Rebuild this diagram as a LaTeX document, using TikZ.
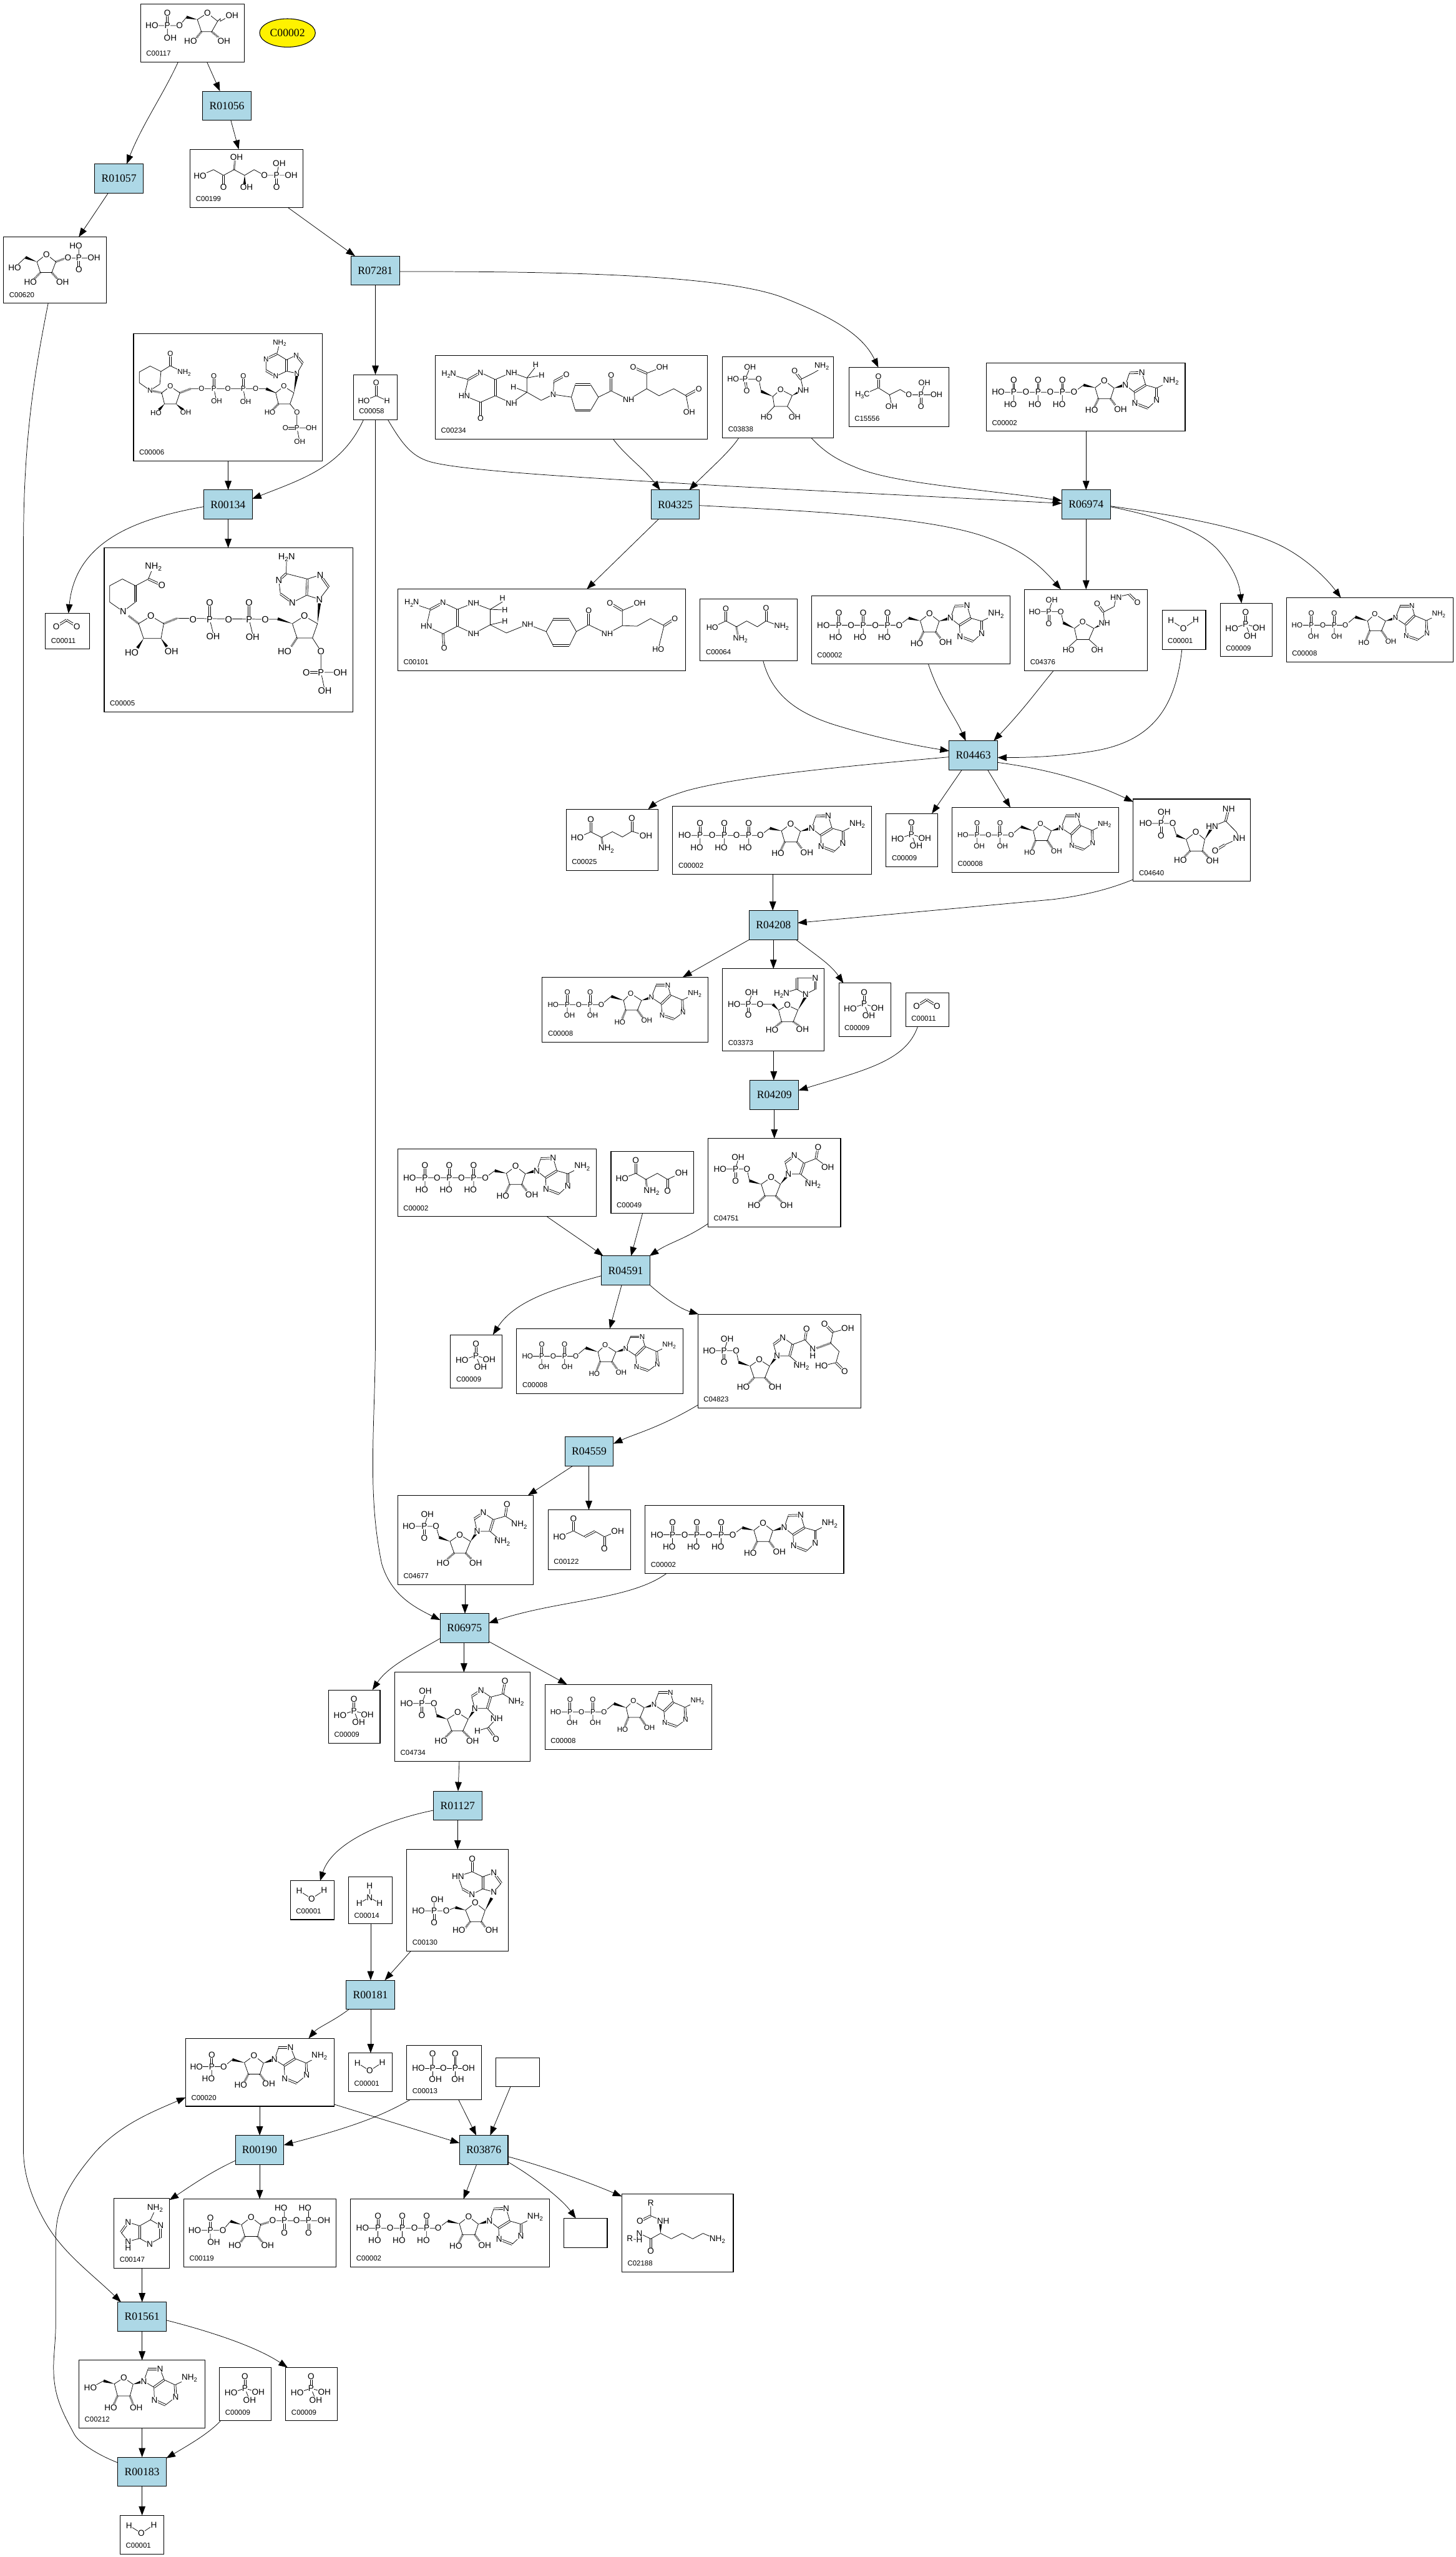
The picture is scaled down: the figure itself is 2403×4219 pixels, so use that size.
\documentclass[tikz,border=0pt]{standalone}
\usepackage{fontspec}
\usetikzlibrary{arrows.meta,shapes.geometric}
\newfontfamily\atf{Liberation Sans}
\newfontfamily\rxf{Liberation Serif}
\definecolor{rxblue}{HTML}{ADD8E6}
\newcount\atomn
\def\atsz{7}
\newcommand\atomfont{\atf\fontsize{\atsz}{\atsz}\selectfont}
\newcommand\sbs[1]{\raisebox{-.25em}{\scalebox{.7}{#1}}}
\newcommand\Nt{NH\sbs{2}}
\newcommand\Hn{H\sbs{2}N}
\tikzset{
 bond/.style={line width=.38pt},
 hashbond/.style={line width=1.7pt,dash pattern=on .35pt off .65pt},
 cnx/.style={line width=.38pt,-{Triangle[length=7.5pt,width=5.5pt]}},
 cpdbox/.style={draw,line width=.55pt,inner sep=0pt,outer sep=0pt},
 rxbox/.style={draw,fill=rxblue,line width=.55pt,inner sep=0pt,outer sep=0pt,minimum width=40pt,minimum height=24pt,font=\rxf\fontsize{9.1}{9.1}\selectfont},
 idlabel/.style={anchor=west,inner sep=0pt,font=\atf\fontsize{5.9}{5.9}\selectfont},
 atomlabel/.style={fill=white,inner sep=.2pt,font=\atomfont},
}
\def\At(#1,#2)#3{\global\advance\atomn by 1 \node[atomlabel] (atom\the\atomn) at (#1,#2) {#3};}
\def\calcn(#1,#2)(#3,#4)#5{\pgfmathsetmacro\ddx{(#3-#1)/\sxv}\pgfmathsetmacro\ddy{(#4-#2)/\syv}\pgfmathsetmacro\lll{max(veclen(\ddx,\ddy),.01)}\pgfmathsetmacro\nnx{-\ddy/\lll*\sxv*#5}\pgfmathsetmacro\nny{\ddx/\lll*\syv*#5}}
\def\Ds(#1,#2)(#3,#4){\calcn(#1,#2)(#3,#4){1.5}\draw[bond] ({#1+\nnx},{#2+\nny})--({#3+\nnx},{#4+\nny}) ({#1-\nnx},{#2-\nny})--({#3-\nnx},{#4-\nny});}
\def\Wd(#1,#2)(#3,#4){\calcn(#1,#2)(#3,#4){2.4}\fill (#1,#2)--({#3+\nnx},{#4+\nny})--({#3-\nnx},{#4-\nny})--cycle;}
\def\Hd(#1,#2)(#3,#4){\draw[hashbond] (#1,#2)--(#3,#4);}
\def\Purine(#1)(#2)(#3)(#4)(#5)(#6)(#7)(#8)(#9){\draw[bond] (#1)--(#2) (#3)--(#4)--(#5) (#6)--(#7) (#8)--(#9)--(#1);\Ds(#2)(#3)\Ds(#9)(#4)\Ds(#5)(#6)\Ds(#7)(#8)\At(#1){N}\At(#3){N}\At(#6){N}\At(#8){N}}
\newcommand\molscope[5]{\def\sxv{#1}\def\syv{#2}\begin{scope}[xscale=1/#1,yscale=1/#2,shift={(-#3,-#4)}]#5\end{scope}}
\newcommand\Cpd[7]{\pgfmathsetmacro\cxx{(#2+#4)/2}\pgfmathsetmacro\cyy{(#3+#5)/2}\pgfmathsetmacro\bw{(#4-#2)*.5}\pgfmathsetmacro\bh{(#5-#3)*.5}%
 \node[cpdbox,minimum width=\bw pt,minimum height=\bh pt] (#1) at (\cxx,\cyy) {};%
 \node[idlabel] (#1-id) at ({#2+9},{#5-14}) {#6};%
 \begin{scope}[shift={(#2,#3)}]#7\end{scope}}
\newcommand\Rxn[3]{\node[rxbox] (#1) at (#2) {#3};}
% ---------- molecules (coordinates read from the enlarged crops) ----------
\newcommand\mATP{\def\atsz{7}\molscope{2.24}{3}{471}{451}{%
 \draw[bond] (515,595)--(795,595)--(830,560) (572,595)--(572,640) (662,595)--(662,640) (752,595)--(752,640) (873,573)--(907,538)--(943,575)--(930,628)--(885,628)--(873,573) (1100,575)--(1153,540);
 \Ds(572,595)(572,535)\Ds(662,595)(662,535)\Ds(752,595)(752,535)\Wd(873,573)(830,560)\Wd(943,575)(975,563)\Hd(885,628)(870,670)\Hd(930,628)(948,660)
 \Purine(985,560)(1000,500)(1046,498)(1060,560)(1100,575)(1100,635)(1068,675)(1020,650)(1018,595)
 \At(515,595){HO}\At(572,595){P}\At(572,535){O}\At(560,655){HO}\At(617,595){O}\At(662,595){P}\At(662,535){O}\At(650,655){HO}\At(707,595){O}\At(752,595){P}\At(752,535){O}\At(740,655){HO}\At(795,595){O}\At(907,538){O}\At(860,685){HO}\At(967,680){OH}\At(1153,540){\Nt}}}
\newcommand\mADP{\def\atsz{6}\molscope{1.96}{3}{417}{997}{%
 \draw[bond] (452,1133)--(608,1133)--(640,1092) (498,1133)--(498,1178) (572,1133)--(572,1178) (680,1112)--(703,1078)--(738,1112)--(725,1160)--(687,1160)--(680,1112) (870,1110)--(910,1080);
 \Ds(498,1133)(498,1073)\Ds(572,1133)(572,1073)\Wd(680,1112)(640,1092)\Wd(738,1112)(765,1100)\Hd(687,1160)(675,1205)\Hd(725,1160)(742,1198)
 \Purine(770,1097)(785,1037)(823,1037)(832,1085)(870,1110)(872,1172)(843,1205)(805,1185)(802,1130)
 \At(452,1133){HO}\At(498,1133){P}\At(498,1073){O}\At(505,1187){OH}\At(535,1133){O}\At(572,1133){P}\At(572,1073){O}\At(580,1187){OH}\At(608,1133){O}\At(703,1078){O}\At(668,1220){HO}\At(755,1212){OH}\At(910,1080){\Nt}}}
\newcommand\mPi{\def\atsz{7}\molscope{1.96}{3}{203}{1027}{%
 \draw[bond] (285,1130)--(240,1153) (285,1130)--(328,1150) (285,1130)--(300,1188);\Ds(285,1130)(285,1072)
 \At(285,1130){P}\At(285,1072){O}\At(240,1153){HO}\At(328,1150){OH}\At(300,1188){OH}}}
\newcommand\mWat{\def\atsz{7}\molscope{3}{3}{88}{430}{%
 \draw[bond] (132,480)--(193,518)--(255,477);\At(132,480){H}\At(193,518){O}\At(255,477){H}}}
\newcommand\mAmm{\def\atsz{7}\molscope{3}{3}{376}{409}{%
 \draw[bond] (480,454)--(480,512) (429,541)--(480,512)--(530,541);\At(480,454){H}\At(480,512){N}\At(429,541){H}\At(530,541){H}}}
\newcommand\mCOO{\def\atsz{7}\molscope{2.24}{3}{1332}{1375}{%
 \Ds(1372,1440)(1410,1408)\Ds(1410,1408)(1448,1440)\At(1372,1440){O}\At(1448,1440){O}}}
\newcommand\mFor{\def\atsz{6.5}\molscope{1.568}{2.24}{601}{220}{%
 \draw[bond] (660,298)--(628,316) (660,298)--(688,316);\Ds(660,250)(660,298)\At(660,250){O}\At(628,316){HO}\At(688,316){H}}}
\newcommand\mRuA{\def\atsz{7}\molscope{2.24}{3}{520}{19}{%
 \draw[bond] (562,127)--(664,127)--(690,85) (619,127)--(619,178) (730,97)--(767,65)--(805,105)--(783,157)--(745,157)--(730,97) (805,105)--(815,92)--(815,105)--(835,90);
 \Ds(619,127)(619,65)\Wd(730,97)(690,85)\Hd(745,157)(725,190)\Hd(783,157)(808,185)
 \At(562,127){HO}\At(619,127){P}\At(619,65){O}\At(630,188){OH}\At(664,127){O}\At(767,65){O}\At(858,78){OH}\At(705,205){HO}\At(828,202){OH}}}
\newcommand\mRul{\def\atsz{7}\molscope{2.24}{3}{704}{739}{%
 \draw[bond] (740,870)--(790,840)--(827,868)--(866,840)--(905,868)--(940,840)--(978,868)--(1077,868) (1023,868)--(1033,808);
 \Ds(827,868)(827,928)\Ds(1023,868)(1023,928)\Hd(866,840)(870,790)\Wd(905,868)(905,915)
 \At(740,870){HO}\At(827,928){O}\At(875,778){OH}\At(912,928){OH}\At(978,868){O}\At(1023,868){P}\At(1033,808){OH}\At(1077,868){OH}\At(1023,928){O}}}
\newcommand\mRiP{\def\atsz{7}\molscope{2.24}{3}{14}{1174}{%
 \draw[bond] (55,1325)--(95,1275) (137,1297)--(172,1260)--(207,1297)--(192,1350)--(150,1350)--(137,1297) (252,1278)--(348,1278) (292,1278)--(292,1218);
 \Wd(137,1297)(95,1275)\Hd(150,1350)(125,1385)\Hd(192,1350)(215,1385)\Hd(207,1297)(245,1278)\Ds(292,1278)(292,1335)
 \At(55,1325){HO}\At(172,1260){O}\At(113,1398){HO}\At(232,1398){OH}\At(252,1278){O}\At(292,1278){P}\At(281,1218){HO}\At(348,1278){OH}\At(292,1335){O}}}
\newcommand\mNADP{\def\atsz{6}\molscope{1.568}{2.24}{32}{68}{%
 \draw[bond] (47,250)--(47,210)--(75,188)--(103,208)--(100,255)--(75,278)--(47,250) (103,208)--(127,187)--(163,212) (127,263)--(152,287)--(142,328)--(112,328)--(105,287)--(127,263) (180,272)--(348,272)--(375,272) (240,272)--(247,318) (316,272)--(322,320) (400,287)--(421,263)--(447,287)--(437,328)--(407,328)--(400,287) (437,328)--(455,360)--(455,417)--(492,417) (455,417)--(462,467) (400,287)--(375,272);
 \Ds(127,187)(127,142)\Ds(240,272)(240,226)\Ds(316,272)(316,226)\Ds(455,417)(425,417)
 \Hd(105,287)(80,280)\Wd(112,328)(98,350)\Wd(142,328)(160,350)\Hd(152,287)(180,272)\Wd(400,287)(375,272)\Wd(447,287)(455,220)\Hd(407,328)(392,350)
 \Purine(455,215)(470,178)(453,148)(428,165)(403,143)(375,162)(375,205)(400,226)(428,207)
 \draw[bond] (403,143)--(410,103);
 \At(75,278){N}\At(127,142){O}\At(163,212){\Nt}\At(127,263){O}\At(90,362){HO}\At(167,360){OH}\At(208,272){O}\At(240,272){P}\At(240,226){O}\At(247,318){OH}\At(276,272){O}\At(316,272){P}\At(316,226){O}\At(322,320){OH}\At(348,272){O}\At(421,263){O}\At(385,360){HO}\At(455,360){O}\At(455,417){P}\At(425,417){O}\At(492,417){OH}\At(462,467){OH}\At(410,103){\Nt}}}
\newcommand\mNADPH{\def\atsz{7.5}\molscope{1.568}{2.24}{-44}{860}{%
 \draw[bond] (5,1095)--(37,1060)--(37,1000)--(3,975)--(-30,1000)--(-30,1060)--(5,1095) (37,1000)--(70,975)--(83,930) (77,1112)--(110,1140)--(103,1195)--(58,1195)--(45,1140)--(77,1112) (145,1120)--(373,1124)--(408,1124) (229,1124)--(238,1175) (331,1124)--(340,1178) (443,1140)--(474,1112)--(508,1140)--(495,1193)--(455,1193)--(443,1140) (495,1193)--(517,1242)--(517,1320)--(567,1320) (517,1320)--(527,1387);
 \Ds(70,975)(105,998)\Ds(229,1124)(229,1062)\Ds(331,1124)(331,1062)\Ds(517,1320)(479,1320)\Ds(37,1060)(37,1000)
 \Hd(45,1140)(18,1110)\Wd(58,1195)(42,1230)\Wd(103,1195)(118,1225)\Hd(110,1140)(145,1120)\Wd(443,1140)(405,1122)\Wd(508,1140)(513,1065)\Hd(455,1193)(440,1225)
 \Purine(513,1050)(537,1005)(515,960)(482,975)(427,955)(408,980)(412,1030)(443,1062)(480,1035)
 \draw[bond] (427,955)--(428,895);
 \At(5,1095){N}\At(83,930){\Nt}\At(105,998){O}\At(77,1112){O}\At(27,1247){HO}\At(130,1242){OH}\At(186,1124){O}\At(229,1124){P}\At(229,1062){O}\At(238,1187){OH}\At(278,1124){O}\At(331,1124){P}\At(331,1062){O}\At(340,1190){OH}\At(373,1124){O}\At(474,1112){O}\At(423,1243){HO}\At(517,1242){O}\At(517,1320){P}\At(479,1320){O}\At(567,1320){OH}\At(527,1387){OH}\At(428,895){\Hn}}}
\newcommand\mFTHF{\def\atsz{6.5}\molscope{1.568}{2.24}{813}{149}{%
 \draw[bond] (848,218)--(898,238)--(888,298) (930,212)--(968,238) (968,298)--(930,322)--(888,298) (968,238)--(1010,212)--(1050,232)--(1050,285)--(1010,325)--(968,298) (1050,232)--(1073,190) (1050,232)--(1088,222) (1050,285)--(1015,265) (1050,285)--(1087,315)--(1118,293)--(1120,245) (1118,293)--(1165,303) (1175,352)--(1165,303)--(1175,257) (1215,257)--(1235,303)--(1215,352) (1235,303)--(1268,280)--(1313,312)--(1360,272)--(1360,215)--(1400,192) (1360,272)--(1392,298)--(1430,272)--(1462,298)--(1470,358);
 \Ds(898,238)(930,212)\Ds(968,238)(968,298)\Ds(930,322)(930,382)\Ds(1120,245)(1152,220)\Ds(1175,257)(1215,257)\Ds(1175,352)(1215,352)\Ds(1268,280)(1268,222)\Ds(1360,215)(1325,193)\Ds(1462,298)(1495,272)
 \At(848,218){\Hn}\At(930,212){N}\At(888,298){HN}\At(930,382){O}\At(1010,212){NH}\At(1010,325){NH}\At(1073,183){H}\At(1088,222){H}\At(1015,265){H}\At(1118,293){N}\At(1152,220){O}\At(1268,222){O}\At(1313,312){NH}\At(1325,193){O}\At(1400,192){OH}\At(1495,272){O}\At(1470,358){OH}}}
\newcommand\mTHF{\def\atsz{6.5}\molscope{1.568}{2.24}{716}{1013}{%
 \draw[bond] (752,1065)--(800,1088)--(790,1150) (833,1063)--(870,1088) (870,1150)--(833,1178)--(790,1150) (870,1088)--(912,1065)--(955,1088)--(955,1145)--(912,1178)--(870,1150) (955,1088)--(987,1060) (955,1088)--(993,1090) (955,1145)--(993,1132) (955,1145)--(997,1175)--(1052,1143)--(1100,1170) (1118,1222)--(1100,1170)--(1118,1125) (1160,1125)--(1178,1170)--(1160,1222) (1178,1170)--(1210,1145)--(1258,1178)--(1297,1148)--(1297,1092)--(1342,1065) (1297,1148)--(1335,1150)--(1370,1122)--(1405,1148)--(1390,1235);
 \Ds(800,1088)(833,1063)\Ds(870,1088)(870,1150)\Ds(833,1178)(836,1232)\Ds(1118,1125)(1160,1125)\Ds(1118,1222)(1160,1222)\Ds(1210,1145)(1210,1093)\Ds(1297,1092)(1265,1065)\Ds(1405,1148)(1433,1122)
 \At(752,1065){\Hn}\At(833,1063){N}\At(790,1150){HN}\At(836,1232){O}\At(912,1065){NH}\At(912,1178){NH}\At(987,1047){H}\At(993,1090){H}\At(993,1132){H}\At(1052,1143){NH}\At(1210,1093){O}\At(1258,1178){NH}\At(1265,1065){O}\At(1342,1065){OH}\At(1433,1122){O}\At(1390,1235){HO}}}
\newcommand\mGAR{\def\atsz{6.5}\molscope{1.2514}{2.613}{53}{100}{%
 \draw[bond] (75,197)--(128,197)--(133,250) (100,197)--(110,147) (157,272)--(173,242)--(197,268)--(187,315)--(160,315)--(157,272) (160,315)--(144,350) (187,315)--(202,350) (220,245)--(215,198)--(240,172)--(258,150);
 \Wd(157,272)(133,250)\Wd(197,268)(215,248)\Ds(100,197)(103,248)\Ds(215,198)(202,162)
 \At(110,147){OH}\At(75,197){HO}\At(100,197){P}\At(103,248){O}\At(128,197){O}\At(173,242){O}\At(144,362){HO}\At(202,362){OH}\At(220,245){NH}\At(202,162){O}\At(258,142){\Nt}}}
\newcommand\mHAP{\def\atsz{6.5}\molscope{1.2514}{2.613}{314}{147}{%
 \draw[bond] (342,265)--(375,235)--(398,265)--(420,242)--(438,265)--(495,265) (398,265)--(402,305) (463,265)--(470,222);
 \Ds(375,235)(375,185)\Ds(463,265)(463,315)
 \At(342,265){H\sbs{3}C}\At(375,185){O}\At(402,315){OH}\At(438,265){O}\At(463,265){P}\At(470,212){OH}\At(495,265){OH}\At(463,315){O}}}
\newcommand\mGln{\def\atsz{6.5}\molscope{1.2514}{2.613}{7}{1146}{%
 \draw[bond] (32,1268)--(60,1240)--(82,1265)--(103,1240)--(125,1265)--(143,1240)--(175,1265);
 \Ds(60,1240)(60,1188)\Ds(143,1240)(143,1185)\Hd(82,1265)(85,1305)
 \At(60,1188){O}\At(32,1268){HO}\At(90,1318){\Nt}\At(143,1185){O}\At(175,1265){\Nt}}}
\newcommand\mFGAR{\def\atsz{6.5}\molscope{1.2514}{2.613}{677}{1104}{%
 \draw[bond] (698,1200)--(752,1200)--(757,1248) (727,1200)--(733,1160) (780,1272)--(797,1245)--(820,1272)--(810,1320)--(785,1320)--(780,1272) (785,1320)--(768,1352) (810,1320)--(827,1352) (842,1250)--(840,1202)--(862,1178)--(866,1138)--(893,1125);
 \Wd(780,1272)(757,1248)\Wd(820,1272)(838,1252)\Ds(727,1200)(727,1252)\Ds(840,1202)(827,1165)\Ds(893,1125)(910,1160)
 \At(733,1150){OH}\At(698,1200){HO}\At(727,1200){P}\At(727,1252){O}\At(752,1200){O}\At(797,1245){O}\At(768,1365){HO}\At(827,1365){OH}\At(842,1250){NH}\At(827,1165){O}\At(866,1138){HN}\At(910,1160){O}}}
\newcommand\mFGAM{\def\atsz{7}\molscope{1.568}{2.613}{1208}{48}{%
 \draw[bond] (1240,153)--(1310,153)--(1320,205) (1280,153)--(1288,115) (1345,222)--(1370,190)--(1393,222)--(1387,272)--(1355,272)--(1345,222) (1412,167)--(1447,143)--(1475,190)--(1482,217)--(1445,245);
 \Wd(1345,222)(1320,205)\Wd(1393,222)(1410,175)\Hd(1355,272)(1340,298)\Hd(1387,272)(1403,300)\Ds(1280,153)(1280,207)\Ds(1447,143)(1455,90)\Ds(1445,245)(1420,270)
 \At(1288,105){OH}\At(1240,153){HO}\At(1280,153){P}\At(1280,207){O}\At(1310,153){O}\At(1370,190){O}\At(1330,312){HO}\At(1413,315){OH}\At(1412,167){HN}\At(1455,90){NH}\At(1482,217){NH}\At(1420,270){O}}}
\newcommand\mAIR{\def\atsz{7}\molscope{1.568}{2.613}{145}{780}{%
 \draw[bond] (175,933)--(242,933)--(275,933) (212,933)--(220,893) (290,958)--(313,937)--(340,958)--(328,1008)--(298,1008)--(290,958) (360,890)--(337,868)--(298,888) (337,820)--(385,820) (385,868)--(360,890);
 \Wd(290,958)(275,933)\Wd(340,958)(360,900)\Hd(298,1008)(282,1030)\Hd(328,1008)(345,1028)\Ds(212,933)(212,980)\Ds(337,868)(337,820)\Ds(385,820)(385,868)
 \At(220,883){OH}\At(175,933){HO}\At(212,933){P}\At(212,980){O}\At(242,933){O}\At(313,937){O}\At(273,1043){HO}\At(352,1040){OH}\At(360,890){N}\At(298,888){\Hn}\At(385,820){N}}}
\newcommand\mGlu{\def\atsz{7}\molscope{2.24}{3}{77}{466}{%
 \draw[bond] (118,607)--(168,578)--(208,605)--(248,577)--(285,603)--(320,575)--(372,597);
 \Ds(168,578)(168,517)\Ds(320,575)(320,510)\Hd(208,605)(212,640)
 \At(168,517){O}\At(118,607){HO}\At(225,662){\Nt}\At(320,510){O}\At(372,597){OH}}}
\newcommand\mAsp{\def\atsz{7}\molscope{1.96}{3}{722}{121}{%
 \draw[bond] (758,255)--(802,228)--(835,258)--(872,228)--(905,258)--(950,225);
 \Ds(802,228)(802,165)\Ds(905,258)(905,315)\Hd(835,258)(838,295)
 \At(802,165){O}\At(758,255){HO}\At(853,317){\Nt}\At(905,315){O}\At(950,225){OH}}}
\newcommand\mCAIR{\def\atsz{7}\molscope{1.96}{3}{1036}{55}{%
 \draw[bond] (1075,207)--(1162,207)--(1170,265) (1125,207)--(1133,160) (1208,282)--(1240,248)--(1270,282)--(1255,340)--(1220,340)--(1208,282) (1296,232)--(1285,175) (1315,140)--(1347,178) (1335,232)--(1296,232) (1347,178)--(1385,155)--(1423,197) (1335,232)--(1375,283);
 \Wd(1208,282)(1170,265)\Wd(1270,282)(1292,240)\Hd(1220,340)(1200,370)\Hd(1255,340)(1275,370)\Ds(1125,207)(1125,265)\Ds(1285,175)(1315,140)\Ds(1347,178)(1335,232)\Ds(1385,155)(1392,98)
 \At(1133,147){OH}\At(1075,207){HO}\At(1125,207){P}\At(1125,265){O}\At(1162,207){O}\At(1240,248){O}\At(1185,387){HO}\At(1290,387){OH}\At(1296,232){N}\At(1315,140){N}\At(1392,98){O}\At(1423,197){OH}\At(1375,283){\Nt}}}
\newcommand\mSAIC{\def\atsz{7}\molscope{1.96}{3}{1003}{925}{%
 \draw[bond] (1040,1106)--(1127,1106)--(1135,1163) (1088,1106)--(1098,1060) (1172,1182)--(1202,1150)--(1235,1182)--(1220,1240)--(1185,1240)--(1172,1182) (1259,1132)--(1248,1075) (1278,1040)--(1310,1075) (1300,1132)--(1259,1132) (1310,1075)--(1350,1052)--(1375,1095) (1300,1132)--(1338,1183) (1440,1015)--(1488,995) (1433,1068)--(1440,1015) (1433,1068)--(1460,1110)--(1450,1165)--(1403,1182);
 \Wd(1172,1182)(1135,1163)\Wd(1235,1182)(1255,1140)\Hd(1185,1240)(1165,1272)\Hd(1220,1240)(1240,1272)\Hd(1433,1068)(1385,1095)\Ds(1088,1106)(1088,1163)\Ds(1248,1075)(1278,1040)\Ds(1310,1075)(1300,1132)\Ds(1350,1052)(1355,998)\Ds(1440,1015)(1413,972)\Ds(1450,1165)(1478,1208)
 \At(1098,1047){OH}\At(1040,1106){HO}\At(1088,1106){P}\At(1088,1163){O}\At(1127,1106){O}\At(1202,1150){O}\At(1150,1287){HO}\At(1253,1287){OH}\At(1259,1132){N}\At(1278,1040){N}\At(1338,1183){\Nt}\At(1355,998){O}\At(1375,1097){N}\At(1375,1130){H}\At(1413,972){O}\At(1488,995){OH}\At(1403,1182){HO}\At(1478,1208){O}}}
\newcommand\mAICAR{\def\atsz{7}\molscope{1.742}{3}{238}{142}{%
 \draw[bond] (270,295)--(348,295)--(357,350) (314,295)--(323,248) (388,370)--(416,337)--(447,370)--(433,428)--(400,428)--(388,370) (466,320)--(458,258) (484,228)--(513,262) (503,320)--(466,320) (503,320)--(538,372) (513,262)--(547,245)--(587,288);
 \Wd(388,370)(357,350)\Wd(447,370)(463,330)\Hd(400,428)(380,458)\Hd(433,428)(450,458)\Ds(314,295)(314,353)\Ds(458,258)(484,228)\Ds(513,262)(503,320)\Ds(547,245)(552,187)
 \At(323,235){OH}\At(270,295){HO}\At(314,295){P}\At(314,353){O}\At(348,295){O}\At(416,337){O}\At(368,477){HO}\At(462,477){OH}\At(466,320){N}\At(484,228){N}\At(538,372){\Nt}\At(552,187){O}\At(587,288){\Nt}}}
\newcommand\mFum{\def\atsz{7}\molscope{1.742}{3}{670}{214}{%
 \draw[bond] (703,347)--(743,318)--(775,347) (805,320)--(832,347)--(870,318);
 \Ds(743,318)(743,258)\Ds(775,347)(805,320)\Ds(832,347)(832,407)
 \At(743,258){O}\At(703,347){HO}\At(832,407){O}\At(870,318){OH}}}
\newcommand\mFAICAR{\def\atsz{7}\molscope{1.742}{3}{229}{1018}{%
 \draw[bond] (263,1172)--(342,1172)--(350,1232) (307,1172)--(317,1125) (380,1250)--(410,1217)--(440,1250)--(425,1308)--(393,1308)--(380,1250) (459,1197)--(450,1137) (477,1107)--(505,1140) (495,1197)--(459,1197) (505,1140)--(540,1125)--(578,1165) (495,1197)--(522,1246)--(497,1292)--(467,1308);
 \Wd(380,1250)(350,1232)\Wd(440,1250)(457,1205)\Hd(393,1308)(375,1340)\Hd(425,1308)(443,1340)\Ds(307,1172)(307,1232)\Ds(450,1137)(477,1107)\Ds(505,1140)(495,1197)\Ds(540,1125)(546,1062)\Ds(497,1292)(520,1347)
 \At(317,1112){OH}\At(263,1172){HO}\At(307,1172){P}\At(307,1232){O}\At(342,1172){O}\At(410,1217){O}\At(362,1357){HO}\At(453,1357){OH}\At(459,1197){N}\At(477,1107){N}\At(546,1062){O}\At(578,1165){\Nt}\At(522,1246){NH}\At(467,1308){H}\At(520,1347){O}}}
\newcommand\mIMP{\def\atsz{7}\molscope{3}{3}{664}{274}{%
 \draw[bond] (918,408)--(988,385)--(1040,410)--(1095,390) (1132,442)--(1095,485)--(1040,470)--(987,497) (918,408)--(940,470) (722,579)--(860,579)--(905,562) (800,579)--(800,535) (955,575)--(1003,538)--(1052,577)--(1033,632)--(978,632)--(955,575);
 \Ds(988,385)(988,321)\Ds(1040,410)(1040,470)\Ds(1095,390)(1132,442)\Ds(940,470)(987,497)\Ds(800,579)(800,638)\Wd(955,575)(905,562)\Wd(1052,577)(1085,515)\Hd(978,632)(955,662)\Hd(1033,632)(1055,662)
 \At(988,321){O}\At(918,408){HN}\At(987,497){N}\At(1095,390){N}\At(1095,485){N}\At(815,522){OH}\At(722,579){HO}\At(800,579){P}\At(800,638){O}\At(860,579){O}\At(1003,538){O}\At(922,675){HO}\At(1085,675){OH}}}
\newcommand\mPPi{\def\atsz{7}\molscope{3}{3}{664}{1244}{%
 \draw[bond] (722,1357)--(970,1357) (792,1357)--(792,1287) (792,1357)--(792,1400) (904,1357)--(904,1400);
 \Ds(904,1357)(904,1287)
 \At(722,1357){HO}\At(792,1357){P}\At(792,1287){O}\At(806,1413){OH}\At(845,1357){O}\At(904,1357){P}\At(904,1287){O}\At(917,1413){OH}\At(970,1357){OH}}}
\newcommand\mLys{\def\atsz{7}\molscope{2.24}{3}{955}{961}{%
 \draw[bond] (1062,1015)--(1062,1068)--(1108,1095) (1098,1155)--(1062,1182)--(1020,1155) (1020,1187)--(985,1182) (1098,1155)--(1138,1182)--(1178,1155)--(1217,1182)--(1255,1155)--(1308,1185);
 \Ds(1062,1068)(1022,1095)\Ds(1062,1182)(1062,1242)\Wd(1098,1155)(1098,1108)
 \At(1062,1005){R}\At(1022,1095){O}\At(1108,1095){NH}\At(1062,1242){O}\At(1020,1155){N}\At(1020,1187){H}\At(985,1182){R}\At(1308,1185){\Nt}}}
\newcommand\mAMP{\def\atsz{7}\molscope{2.529}{3}{775}{70}{%
 \draw[bond] (820,210)--(934,210)--(970,175) (884,210)--(884,258) (1020,190)--(1060,155)--(1100,192)--(1085,247)--(1037,247)--(1020,190) (1278,192)--(1333,157);
 \Ds(884,210)(884,151)\Wd(1020,190)(970,175)\Wd(1100,192)(1135,178)\Hd(1037,247)(1020,285)\Hd(1085,247)(1105,280)
 \Purine(1146,175)(1163,115)(1213,115)(1232,170)(1278,192)(1280,252)(1238,292)(1189,268)(1186,205)
 \At(820,210){HO}\At(884,210){P}\At(884,151){O}\At(870,270){HO}\At(934,210){O}\At(1060,155){O}\At(1005,300){HO}\At(1122,295){OH}\At(1333,157){\Nt}}}
\newcommand\mAde{\def\atsz{7}\molscope{2.529}{3}{476}{862}{%
 \draw[bond] (647,920)--(628,968)--(583,998) (628,968)--(670,997) (670,1057)--(625,1087)--(583,1060)--(535,1075)--(505,1030) (535,980)--(583,998) (535,1075)--(535,1107);
 \Ds(670,997)(670,1057)\Ds(583,998)(583,1060)\Ds(505,1030)(535,980)
 \At(647,910){\Nt}\At(670,997){N}\At(625,1087){N}\At(535,980){N}\At(535,1075){N}\At(535,1107){H}}}
\newcommand\mPRPP{\def\atsz{7}\molscope{2.529}{3}{767}{865}{%
 \draw[bond] (813,1020)--(930,1020)--(962,975) (878,1020)--(878,1068) (1008,992)--(1048,955)--(1088,992)--(1075,1050)--(1022,1050)--(1008,992) (1138,972)--(1352,972) (1187,972)--(1187,920) (1288,972)--(1288,920);
 \Ds(878,1020)(878,960)\Ds(1187,972)(1187,1032)\Ds(1288,972)(1288,1032)\Wd(1008,992)(962,975)\Hd(1022,1050)(1002,1082)\Hd(1075,1050)(1097,1082)\Hd(1088,992)(1125,978)
 \At(813,1020){HO}\At(878,1020){P}\At(878,960){O}\At(892,1080){OH}\At(930,1020){O}\At(1048,955){O}\At(980,1095){HO}\At(1117,1095){OH}\At(1138,972){O}\At(1187,972){P}\At(1173,910){HO}\At(1187,1032){O}\At(1238,972){O}\At(1288,972){P}\At(1273,910){HO}\At(1288,1032){O}\At(1352,972){OH}}}
\newcommand\mAdo{\def\atsz{7}\molscope{2.529}{3}{279}{313}{%
 \draw[bond] (327,450)--(382,415) (427,430)--(466,400)--(505,432)--(492,490)--(440,490)--(427,430) (680,435)--(740,402);
 \Wd(427,430)(382,415)\Wd(505,432)(540,420)\Hd(440,490)(425,530)\Hd(492,490)(505,530)
 \Purine(550,417)(567,357)(618,357)(635,410)(680,435)(683,495)(640,535)(594,510)(592,447)
 \At(327,450){HO}\At(466,400){O}\At(412,547){HO}\At(518,547){OH}\At(740,402){\Nt}}}
\begin{document}
\begin{tikzpicture}[x=.5pt,y=-.5pt]
\useasboundingbox (0,0) rectangle (2403,4219);
% ---------- compounds ----------
\Cpd{c00117}{232}{6.3}{403.6}{102.3}{C00117}{\mRuA}
\Cpd{c00199}{314}{246.3}{500.4}{342.3}{C00199}{\mRul}
\Cpd{c00620}{6}{391}{176}{500.3}{C00620}{\mRiP}
\Cpd{c00006}{220.4}{550.4}{532.3}{760.6}{C00006}{\mNADP}
\Cpd{c00058}{583.3}{618.2}{655.4}{692.3}{C00058}{\mFor}
\Cpd{c00234}{718.5}{586.5}{1168}{724.5}{C00234}{\mFTHF}
\Cpd{c00005}{172}{904}{582.6}{1174.5}{C00005}{\mNADPH}
\Cpd{c00101}{656.6}{972}{1131}{1106.6}{C00101}{\mTHF}
\Cpd{c00011a}{75}{1012}{148}{1071}{C00011}{\mCOO}
\Cpd{c03838}{1192.4}{588.3}{1376}{722.2}{C03838}{\mGAR}
\Cpd{c15556}{1401}{606.3}{1566}{704.2}{C15556}{\mHAP}
\Cpd{c00002a}{1628}{599}{1956}{711.5}{C00002}{\mATP}
\Cpd{c00064}{1155.6}{988.6}{1315.4}{1090.4}{C00064}{\mGln}
\Cpd{c00002b}{1339.4}{983.6}{1667}{1095.3}{C00002}{\mATP}
\Cpd{c04376}{1691}{972.5}{1894}{1106.4}{C04376}{\mFGAR}
\Cpd{c00001a}{1918}{1007.3}{1990}{1071.6}{C00001}{\mWat}
\Cpd{c00009a}{2014}{995.5}{2100}{1083.5}{C00009}{\mPi}
\Cpd{c00008a}{2123}{986.3}{2398}{1092.3}{C00008}{\mADP}
\Cpd{c00025}{934.4}{1335.3}{1086.6}{1436.3}{C00025}{\mGlu}
\Cpd{c00002c}{1110.3}{1330.3}{1438}{1442.3}{C00002}{\mATP}
\Cpd{c00009b}{1462.5}{1342.3}{1547.3}{1430.3}{C00009}{\mPi}
\Cpd{c00008b}{1571.3}{1332.5}{1846}{1439.3}{C00008}{\mADP}
\Cpd{c04640}{1870.4}{1318.4}{2064}{1454.2}{C04640}{\mFGAM}
\Cpd{c00008c}{895}{1612.3}{1169}{1719.4}{C00008}{\mADP}
\Cpd{c03373}{1192.5}{1598.5}{1360}{1734.4}{C03373}{\mAIR}
\Cpd{c00009c}{1384.4}{1622.2}{1470.5}{1710.2}{C00009}{\mPi}
\Cpd{c00011b}{1494.8}{1638.3}{1566.2}{1694.2}{C00011}{\mCOO}
\Cpd{c00002d}{656.3}{1895.3}{984.4}{2007.3}{C00002}{\mATP}
\Cpd{c00049}{1008.4}{1900.3}{1144.6}{2002.3}{C00049}{\mAsp}
\Cpd{c04751}{1168.6}{1878.3}{1387.4}{2024.3}{C04751}{\mCAIR}
\Cpd{c00009d}{743.6}{2202.3}{828.3}{2290.3}{C00009}{\mPi}
\Cpd{c00008d}{852.8}{2192.3}{1127.2}{2299.3}{C00008}{\mADP}
\Cpd{c04823}{1151.7}{2168.3}{1420.6}{2323.3}{C04823}{\mSAIC}
\Cpd{c04677}{656.6}{2467.3}{880.5}{2614.3}{C04677}{\mAICAR}
\Cpd{c00122}{904.6}{2491.3}{1040.7}{2590.3}{C00122}{\mFum}
\Cpd{c00002e}{1064.8}{2484.3}{1392.6}{2596.3}{C00002}{\mATP}
\Cpd{c00009e}{542.4}{2788.3}{627.3}{2876.3}{C00009}{\mPi}
\Cpd{c04734}{651.5}{2759.3}{875.3}{2906.3}{C04734}{\mFAICAR}
\Cpd{c00008e}{899.4}{2779.3}{1174.4}{2886.3}{C00008}{\mADP}
\Cpd{c00001b}{479.3}{3103.3}{551.3}{3167.3}{C00001}{\mWat}
\Cpd{c00014}{575.3}{3096.3}{647.3}{3174.3}{C00014}{\mAmm}
\Cpd{c00130}{671.3}{3051.3}{839.3}{3219.3}{C00130}{\mIMP}
\Cpd{c00001c}{575.3}{3387.3}{647.3}{3451.3}{C00001}{\mWat}
\Cpd{c00013}{671.3}{3374.7}{794.3}{3464.3}{C00013}{\mPPi}
\Cpd{blanka}{818.3}{3395.3}{890.3}{3443.3}{}{}
\Cpd{blankb}{930.4}{3660.3}{1002.2}{3708.3}{}{}
\Cpd{c00002f}{578.7}{3628.3}{906.7}{3740.3}{C00002}{\mATP}
\Cpd{c02188}{1026.3}{3620.3}{1210.3}{3748.3}{C02188}{\mLys}
\Cpd{c00020}{306.4}{3363.3}{551.2}{3475.3}{C00020}{\mAMP}
\Cpd{c00147}{188.2}{3627.3}{279.6}{3742.3}{C00147}{\mAde}
\Cpd{c00119}{303.3}{3628.3}{554.4}{3740.3}{C00119}{\mPRPP}
\Cpd{c00212}{130.3}{3894.3}{338.3}{4006.3}{C00212}{\mAdo}
\Cpd{c00009f}{362.4}{3906.3}{447.4}{3994.3}{C00009}{\mPi}
\Cpd{c00009g}{471.6}{3906.3}{556.6}{3994.3}{C00009}{\mPi}
\Cpd{c00001d}{198.3}{4150.3}{270.3}{4214.3}{C00001}{\mWat}
\node[draw,fill=yellow,ellipse,line width=.55pt,inner sep=0pt,outer sep=0pt,minimum width=46pt,minimum height=23.4pt,font=\rxf\fontsize{9.1}{9.1}\selectfont] (legend) at (474.5,54.3) {C00002};
% ---------- reactions ----------
\Rxn{r01056}{374.5,174.5}{R01056}
\Rxn{r01057}{196.4,294.5}{R01057}
\Rxn{r07281}{619.4,446.5}{R07281}
\Rxn{r00134}{376.3,832.5}{R00134}
\Rxn{r04325}{1114.5,832.5}{R04325}
\Rxn{r06974}{1792.5,832.4}{R06974}
\Rxn{r04463}{1606.5,1246.3}{R04463}
\Rxn{r04208}{1276.5,1526.3}{R04208}
\Rxn{r04209}{1278,1806.5}{R04209}
\Rxn{r04591}{1032.6,2096.3}{R04591}
\Rxn{r04559}{972.4,2395}{R04559}
\Rxn{r06975}{766.6,2686.3}{R06975}
\Rxn{r01127}{755.3,2979.3}{R01127}
\Rxn{r00181}{611.3,3291.3}{R00181}
\Rxn{r00190}{428.4,3547.3}{R00190}
\Rxn{r03876}{798.4,3547.3}{R03876}
\Rxn{r01561}{234.5,3822.3}{R01561}
\Rxn{r00183}{234.4,4078.3}{R00183}
% ---------- connectors ----------
\draw[cnx] (c00117.south -| 294,0) .. controls (270,155) and (235,205) .. (r01057.north -| 209,0);
\draw[cnx] (c00117.south -| 341.5,0) -- (r01056.north -| 363,0);
\draw[cnx] (r01056.south -| 381,0) -- (c00199.north -| 394,0);
\draw[cnx] (c00199.south -| 475,0) -- (r07281.north -| 586,0);
\draw[cnx] (r01057.south -| 178.6,0) -- (c00620.north -| 130,0);
\draw[cnx] (c00620.south -| 79.5,0) .. controls (58,610) and (38.7,720) .. (38.7,900) -- (38.7,3553) .. controls (40,3590) and (52,3625) .. (71,3660) .. controls (100,3715) and (150,3750) .. (r01561.north -| 199.7,0);
\draw[cnx] (r07281.south -| 619.6,0) -- (c00058.north -| 619.6,0);
\draw[cnx] (r07281.east |- 0,448) .. controls (880,448) and (1180,450) .. (1290,490) .. controls (1380,525) and (1425,555) .. (c15556.north -| 1449.7,0);
\draw[cnx] (c00058.south -| 600,0) .. controls (565,770) and (500,790) .. (r00134.east |- 0,823);
\draw[cnx] (c00006.south -| 376.6,0) -- (r00134.north -| 376.6,0);
\draw[cnx] (r00134.west |- 0,836) .. controls (230,855) and (125,890) .. (c00011a.north -| 113,0);
\draw[cnx] (r00134.south -| 376.6,0) -- (c00005.north -| 376.6,0);
\draw[cnx] (c00058.south -| 640,0) .. controls (665,735) and (680,752) .. (707,761) .. controls (760,778) and (1000,790) .. (1200,802) -- (r06974.west |- 0,830.5);
\draw[cnx] (c00058.south -| 619.6,0) -- (619.6,2200) .. controls (619.6,2350) and (605,2460) .. (630,2580) .. controls (645,2630) and (680,2650) .. (r06975.west |- 0,2673);
\draw[cnx] (c00234.south -| 1012,0) .. controls (1035,755) and (1060,770) .. (r04325.north -| 1089.6,0);
\draw[cnx] (c03838.south -| 1219.5,0) .. controls (1205,745) and (1170,775) .. (r04325.north -| 1137.5,0);
\draw[cnx] (c03838.south -| 1338.6,0) .. controls (1360,745) and (1380,758) .. (1409.7,770) .. controls (1470,797) and (1600,805) .. (r06974.west |- 0,826);
\draw[cnx] (c00002a.south -| 1792.5,0) -- (r06974.north -| 1792.5,0);
\draw[cnx] (r04325.south -| 1087,0) -- (c00101.north -| 968.5,0);
\draw[cnx] (r04325.east |- 0,834) .. controls (1300,842) and (1530,850) .. (1629.5,887) .. controls (1680,905) and (1710,925) .. (c04376.north -| 1751,0);
\draw[cnx] (r06974.south -| 1792.5,0) -- (c04376.north -| 1792.5,0);
\draw[cnx] (r06974.east |- 0,836) .. controls (1900,850) and (1975,870) .. (2009,906) .. controls (2035,935) and (2045,960) .. (c00009a.north -| 2049,0);
\draw[cnx] (r06974.east |- 0,835) .. controls (1940,850) and (2050,870) .. (2109,898) .. controls (2154,919) and (2190,955) .. (c00008a.north -| 2213,0);
\draw[cnx] (c00064.south -| 1259.5,0) .. controls (1275,1150) and (1320,1180) .. (1391,1200) .. controls (1450,1218) and (1510,1230) .. (r04463.west |- 0,1239);
\draw[cnx] (c00002b.south -| 1532,0) .. controls (1550,1150) and (1575,1180) .. (r04463.north -| 1594,0);
\draw[cnx] (c04376.south -| 1739,0) .. controls (1715,1135) and (1690,1170) .. (r04463.north -| 1640,0);
\draw[cnx] (c00001a.south -| 1950.7,0) .. controls (1940,1170) and (1900,1225) .. (1800,1240) .. controls (1750,1248) and (1700,1250) .. (r04463.east |- 0,1250);
\draw[cnx] (r04463.west |- 0,1249) .. controls (1420,1262) and (1220,1280) .. (1132,1305) .. controls (1100,1315) and (1085,1322) .. (c00025.north -| 1069.6,0);
\draw[cnx] (r04463.south -| 1587.5,0) -- (c00009b.north -| 1538,0);
\draw[cnx] (r04463.south -| 1630,0) -- (c00008b.north -| 1667.6,0);
\draw[cnx] (r04463.east |- 0,1258) .. controls (1720,1268) and (1790,1285) .. (c04640.west |- 0,1323);
\draw[cnx] (c00002c.south -| 1275.4,0) -- (r04208.north -| 1275.4,0);
\draw[cnx] (c04640.west |- 0,1451) .. controls (1820,1472) and (1770,1480) .. (1738,1484) -- (r04208.east |- 0,1522.7);
\draw[cnx] (r04208.south -| 1236.8,0) -- (c00008c.north -| 1126.8,0);
\draw[cnx] (r04208.south -| 1276.5,0) -- (c03373.north -| 1276.5,0);
\draw[cnx] (r04208.south -| 1313.6,0) .. controls (1345,1575) and (1370,1590) .. (c00009c.north -| 1392,0);
\draw[cnx] (c03373.south -| 1277,0) -- (r04209.north -| 1277,0);
\draw[cnx] (c00011b.south -| 1514.5,0) .. controls (1495,1750) and (1430,1765) .. (r04209.east |- 0,1799);
\draw[cnx] (r04209.south -| 1278,0) -- (c04751.north -| 1278,0);
\draw[cnx] (c00002d.south -| 902.7,0) .. controls (935,2030) and (965,2050) .. (r04591.north -| 995.6,0);
\draw[cnx] (c00049.south -| 1060.4,0) -- (r04591.north -| 1041.5,0);
\draw[cnx] (c04751.west |- 0,2019) .. controls (1130,2045) and (1105,2050) .. (r04591.north -| 1072,0);
\draw[cnx] (r04591.west |- 0,2105) .. controls (920,2125) and (850,2145) .. (c00009d.north -| 813.5,0);
\draw[cnx] (r04591.south -| 1026,0) -- (c00008d.north -| 1006.3,0);
\draw[cnx] (r04591.south -| 1072.6,0) .. controls (1100,2145) and (1125,2160) .. (c04823.north -| 1152.8,0);
\draw[cnx] (c04823.west |- 0,2318.3) .. controls (1090,2355) and (1050,2365) .. (r04559.east |- 0,2382);
\draw[cnx] (r04559.south -| 945,0) -- (c04677.north -| 871.3,0);
\draw[cnx] (r04559.south -| 971.8,0) -- (c00122.north -| 971.8,0);
\draw[cnx] (c04677.south -| 767.4,0) -- (r06975.north -| 767.4,0);
\draw[cnx] (c00002e.south -| 1099.8,0) .. controls (1040,2640) and (920,2640) .. (r06975.east |- 0,2678);
\draw[cnx] (r06975.west |- 0,2703.3) .. controls (680,2730) and (640,2750) .. (c00009e.north -| 614.7,0);
\draw[cnx] (r06975.south -| 765.7,0) -- (c04734.north -| 765.7,0);
\draw[cnx] (r06975.east |- 0,2708.3) -- (c00008e.north -| 936,0);
\draw[cnx] (c04734.south -| 758,0) -- (r01127.north -| 756,0);
\draw[cnx] (r01127.west |- 0,2987) .. controls (650,3000) and (550,3035) .. (c00001b.north -| 528.3,0);
\draw[cnx] (r01127.south -| 755.3,0) -- (c00130.north -| 755.3,0);
\draw[cnx] (c00014.south -| 611.7,0) -- (r00181.north -| 611.7,0);
\draw[cnx] (c00130.south -| 678,0) -- (r00181.north -| 635,0);
\draw[cnx] (r00181.south -| 576,0) .. controls (550,3335) and (525,3345) .. (c00020.north -| 509.3,0);
\draw[cnx] (r00181.south -| 611.7,0) -- (c00001c.north -| 611.7,0);
\draw[cnx] (c00020.south -| 428.6,0) -- (r00190.north -| 428.6,0);
\draw[cnx] (c00020.east |- 0,3472) -- (r03876.west |- 0,3536);
\draw[cnx] (c00013.south -| 677.3,0) .. controls (640,3485) and (600,3505) .. (r00190.east |- 0,3539.3);
\draw[cnx] (c00013.south -| 756.7,0) -- (r03876.north -| 786,0);
\draw[cnx] (blanka.south -| 842.4,0) -- (r03876.north -| 809,0);
\draw[cnx] (r03876.south -| 786.6,0) -- (c00002f.north -| 765,0);
\draw[cnx] (r03876.east |- 0,3567.3) .. controls (870,3585) and (925,3625) .. (blankb.north -| 950.4,0);
\draw[cnx] (r03876.east |- 0,3558.3) .. controls (900,3575) and (970,3600) .. (c02188.west |- 0,3624);
\draw[cnx] (r00190.west |- 0,3565) .. controls (345,3585) and (310,3610) .. (c00147.east |- 0,3630);
\draw[cnx] (r00190.south -| 428.6,0) -- (c00119.north -| 428.6,0);
\draw[cnx] (c00147.south -| 234.5,0) -- (r01561.north -| 234.5,0);
\draw[cnx] (r01561.south -| 234.5,0) -- (c00212.north -| 234.5,0);
\draw[cnx] (r01561.east |- 0,3828.3) .. controls (340,3845) and (420,3870) .. (c00009g.north -| 474.7,0);
\draw[cnx] (c00212.south -| 234.5,0) -- (r00183.north -| 234.5,0);
\draw[cnx] (c00009f.south -| 364,0) .. controls (345,4015) and (310,4035) .. (r00183.east |- 0,4056);
\draw[cnx] (r00183.south -| 234.5,0) -- (c00001d.north -| 234.5,0);
\draw[cnx] (r00183.west |- 0,4063.3) .. controls (160,4050) and (130,4030) .. (122.8,4016.7) .. controls (100,3975) and (88,3950) .. (88.4,3903) .. controls (89,3880) and (92,3860) .. (92,3830) -- (92,3693) .. controls (92,3640) and (115,3600) .. (158,3550) .. controls (200,3505) and (250,3485) .. (c00020.west |- 0,3460.7);
\end{tikzpicture}
\end{document}
